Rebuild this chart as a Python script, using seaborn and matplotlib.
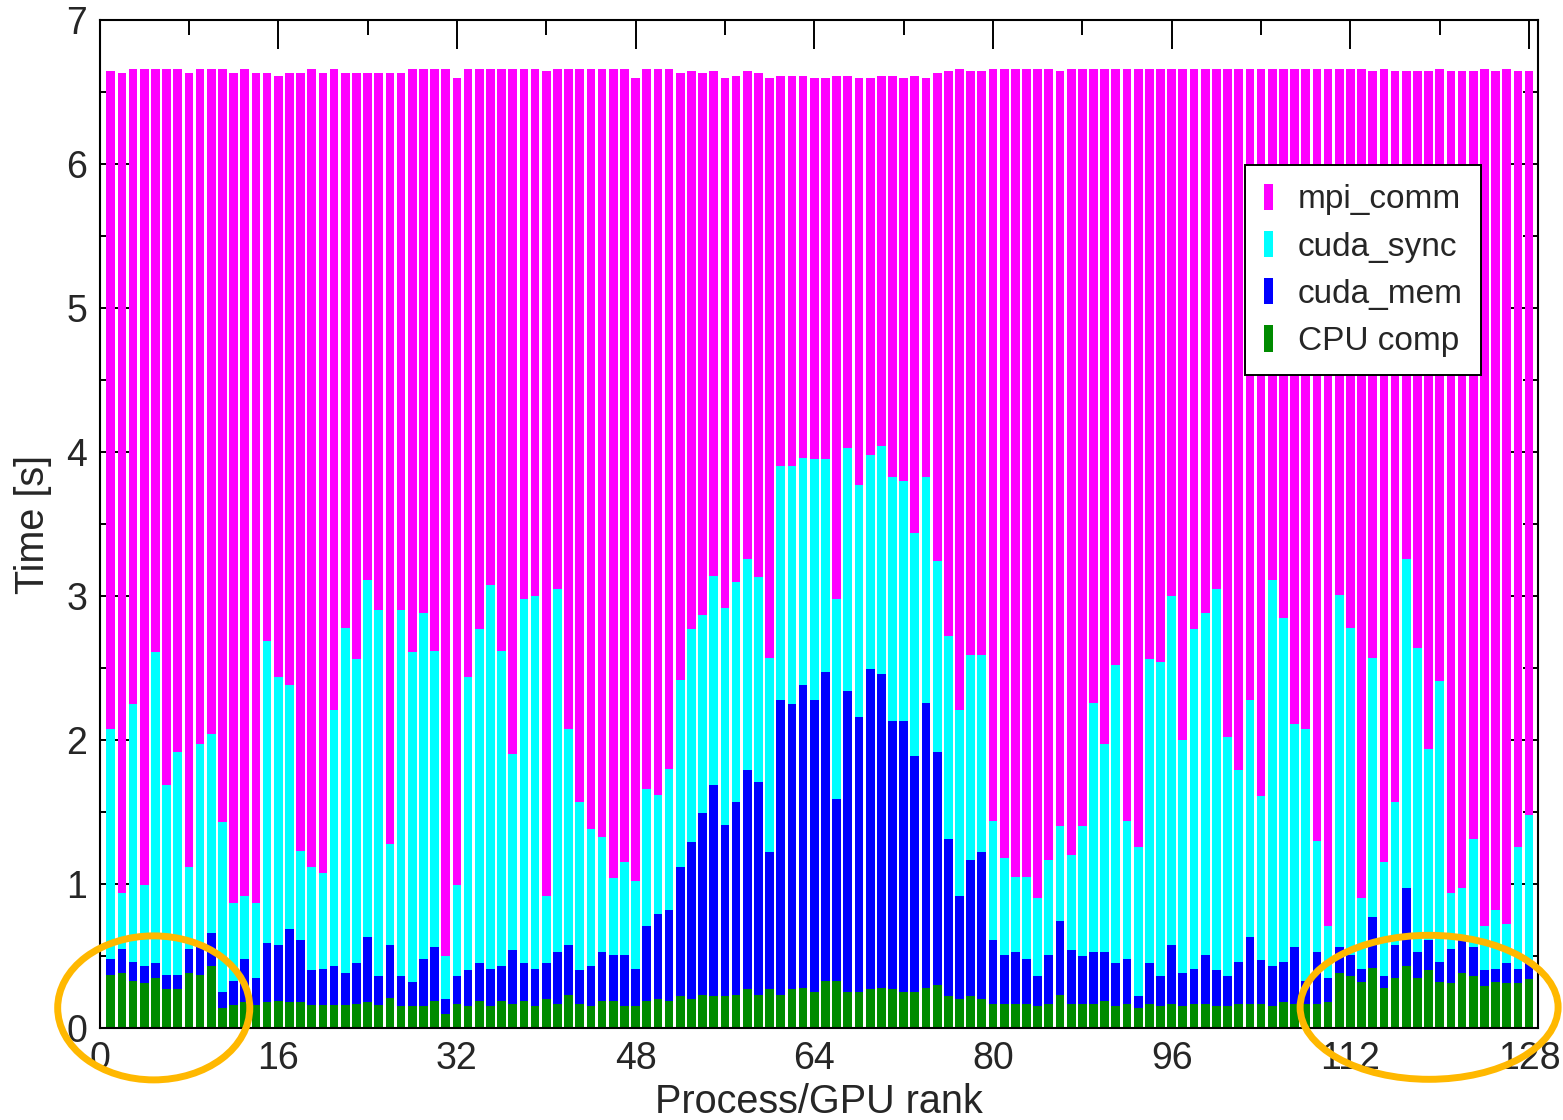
import matplotlib
matplotlib.use("Agg")
import numpy as np
import pandas as pd
import matplotlib.pyplot as plt
from matplotlib.patches import Ellipse, Patch
from matplotlib.ticker import MultipleLocator
import seaborn as sns

# Per-rank timeline: the time (s) at which each phase ends, ranks 1..128
ranks = list(range(1, 129))

end_cpu = [
    0.37, 0.38, 0.33, 0.31, 0.35, 0.27, 0.27, 0.38, 0.37, 0.43, 0.14, 0.16, 0.18, 0.16, 0.18, 0.19,
    0.18, 0.18, 0.16, 0.16, 0.16, 0.16, 0.17, 0.18, 0.16, 0.21, 0.15, 0.15, 0.15, 0.19, 0.10, 0.17,
    0.15, 0.19, 0.15, 0.19, 0.17, 0.19, 0.15, 0.20, 0.17, 0.23, 0.17, 0.15, 0.19, 0.19, 0.15, 0.15,
    0.19, 0.20, 0.19, 0.22, 0.20, 0.23, 0.22, 0.22, 0.23, 0.27, 0.23, 0.27, 0.23, 0.27, 0.28, 0.25,
    0.33, 0.33, 0.25, 0.25, 0.27, 0.28, 0.27, 0.25, 0.25, 0.28, 0.30, 0.22, 0.20, 0.22, 0.20, 0.17,
    0.17, 0.17, 0.17, 0.15, 0.17, 0.23, 0.17, 0.17, 0.17, 0.19, 0.15, 0.17, 0.14, 0.17, 0.15, 0.17,
    0.15, 0.17, 0.17, 0.15, 0.15, 0.17, 0.17, 0.17, 0.15, 0.18, 0.17, 0.17, 0.17, 0.18, 0.38, 0.36,
    0.32, 0.42, 0.28, 0.35, 0.43, 0.35, 0.40, 0.32, 0.31, 0.38, 0.36, 0.29, 0.32, 0.31, 0.31, 0.34,
]

end_mem = [
    0.48, 0.55, 0.46, 0.43, 0.45, 0.37, 0.37, 0.55, 0.56, 0.66, 0.25, 0.33, 0.48, 0.35, 0.59, 0.58,
    0.69, 0.61, 0.40, 0.41, 0.43, 0.38, 0.45, 0.63, 0.36, 0.58, 0.36, 0.32, 0.48, 0.56, 0.20, 0.36,
    0.40, 0.45, 0.41, 0.43, 0.54, 0.45, 0.41, 0.45, 0.53, 0.58, 0.40, 0.43, 0.53, 0.51, 0.51, 0.41,
    0.71, 0.79, 0.82, 1.12, 1.29, 1.49, 1.69, 1.41, 1.57, 1.79, 1.71, 1.22, 2.28, 2.25, 2.38, 2.28,
    2.47, 1.59, 2.34, 2.16, 2.49, 2.46, 2.13, 2.13, 1.89, 2.26, 1.92, 1.31, 0.92, 1.17, 1.22, 0.61,
    0.51, 0.53, 0.48, 0.36, 0.51, 0.74, 0.54, 0.50, 0.53, 0.53, 0.45, 0.48, 0.22, 0.45, 0.36, 0.58,
    0.38, 0.41, 0.51, 0.40, 0.36, 0.46, 0.63, 0.47, 0.43, 0.46, 0.56, 0.33, 0.53, 0.35, 0.56, 0.51,
    0.41, 0.77, 0.36, 0.58, 0.97, 0.53, 0.61, 0.46, 0.55, 0.61, 0.56, 0.40, 0.41, 0.45, 0.41, 0.46,
]

end_sync = [
    2.08, 0.94, 2.25, 0.99, 2.61, 1.69, 1.92, 1.12, 1.97, 2.04, 1.43, 0.87, 0.92, 0.87, 2.69, 2.44,
    2.38, 1.23, 1.12, 1.08, 2.21, 2.78, 2.56, 3.11, 2.90, 1.28, 2.90, 2.61, 2.88, 2.62, 0.50, 0.99,
    2.44, 2.77, 3.08, 2.62, 1.90, 2.98, 3.00, 0.92, 3.05, 2.08, 1.57, 1.38, 1.33, 1.04, 1.15, 1.02,
    1.66, 1.62, 1.80, 2.42, 2.77, 2.87, 3.14, 2.92, 3.10, 3.26, 3.13, 2.57, 3.90, 3.90, 3.96, 3.95,
    3.95, 2.98, 4.03, 3.77, 3.98, 4.04, 3.83, 3.80, 3.44, 3.83, 3.24, 2.72, 2.21, 2.59, 2.59, 1.44,
    1.18, 1.05, 1.05, 0.90, 1.17, 1.40, 1.20, 1.40, 2.26, 1.97, 2.52, 1.44, 1.26, 2.56, 2.54, 3.00,
    2.00, 2.77, 2.88, 3.05, 2.02, 1.79, 2.28, 1.61, 3.11, 2.85, 2.11, 2.08, 1.30, 0.71, 3.01, 2.78,
    0.90, 2.57, 1.15, 1.57, 3.26, 2.64, 1.94, 2.41, 0.94, 0.97, 1.31, 0.71, 0.82, 0.72, 1.26, 1.48,
]

end_mpi = [
    6.645, 6.63, 6.66, 6.66, 6.66, 6.66, 6.66, 6.63, 6.66, 6.66, 6.66, 6.63, 6.66, 6.63, 6.63, 6.61,
    6.63, 6.63, 6.66, 6.63, 6.66, 6.63, 6.63, 6.63, 6.63, 6.63, 6.63, 6.66, 6.66, 6.66, 6.66, 6.595,
    6.66, 6.66, 6.66, 6.66, 6.66, 6.66, 6.66, 6.645, 6.66, 6.66, 6.66, 6.66, 6.66, 6.66, 6.66, 6.595,
    6.66, 6.66, 6.66, 6.63, 6.645, 6.63, 6.645, 6.595, 6.61, 6.645, 6.63, 6.595, 6.61, 6.61, 6.61, 6.595,
    6.595, 6.61, 6.61, 6.595, 6.595, 6.61, 6.61, 6.595, 6.61, 6.595, 6.63, 6.645, 6.66, 6.645, 6.645, 6.66,
    6.66, 6.66, 6.66, 6.66, 6.66, 6.645, 6.66, 6.66, 6.66, 6.66, 6.66, 6.66, 6.66, 6.66, 6.66, 6.66,
    6.66, 6.66, 6.66, 6.66, 6.66, 6.66, 6.66, 6.66, 6.66, 6.66, 6.66, 6.66, 6.66, 6.66, 6.66, 6.66,
    6.66, 6.645, 6.66, 6.645, 6.645, 6.645, 6.645, 6.66, 6.645, 6.645, 6.645, 6.66, 6.645, 6.66, 6.645, 6.645,
]

phase_labels = ["mpi_comm", "cuda_sync", "cuda_mem", "CPU comp"]
phase_colors = ["#FF00FF", "#00FFFF", "#0000FF", "#008B00"]

df = pd.DataFrame({
    "rank": ranks,
    "mpi_comm": end_mpi,
    "cuda_sync": end_sync,
    "cuda_mem": end_mem,
    "CPU comp": end_cpu,
})

sns.set_style("ticks")
plt.rcParams["font.family"] = ["Liberation Sans", "DejaVu Sans"]

fig = plt.figure(figsize=(15.63, 11.2), dpi=100)
ax = fig.add_axes([0.0637, 0.0821, 0.9203, 0.9000])

# Stacked look: each phase is drawn from zero up to its end time, the later
# phases first so the earlier ones sit on top of them.
for label, color in zip(phase_labels, phase_colors):
    sns.barplot(data=df, x="rank", y=label, native_scale=True, color=color,
                saturation=1, width=0.78, errorbar=None, linewidth=0,
                edgecolor="none", ax=ax)

ax.set_xlim(0, 128.8)
ax.set_ylim(0, 7)
ax.xaxis.set_major_locator(MultipleLocator(16))
ax.xaxis.set_minor_locator(MultipleLocator(8))
ax.yaxis.set_major_locator(MultipleLocator(1))
ax.yaxis.set_minor_locator(MultipleLocator(0.5))
ax.set_xticklabels([str(int(t)) for t in ax.get_xticks()])

ax.tick_params(which="both", direction="in", top=True, right=True,
               width=1.4, color="black")
ax.tick_params(which="major", length=21, labelsize=27, pad=9)
ax.tick_params(which="minor", length=10.5)
for side in ax.spines.values():
    side.set_linewidth(1.5)
    side.set_color("black")

ax.set_xlabel("Process/GPU rank", fontsize=28.5, labelpad=5)
ax.set_ylabel("Time [s]", fontsize=28.5, labelpad=10)

handles = [Patch(facecolor=c, edgecolor="none", label=l)
           for l, c in zip(phase_labels, phase_colors)]
leg = ax.legend(handles=handles, loc="upper right", bbox_to_anchor=(0.9605, 0.856),
                fontsize=24, handlelength=0.28, handleheight=0.85,
                handletextpad=0.75, labelspacing=0.46, borderpad=0.55,
                borderaxespad=0, fancybox=False, framealpha=1, frameon=True)
leg.get_frame().set_edgecolor("black")
leg.get_frame().set_linewidth(1.4)

# Highlight rings around the low-rank and high-rank groups
ring_color = "#FFB800"
for cx, cy, w, h in [(4.85, 0.14, 17.2, 1.0), (119.05, 0.144, 23.1, 1.0)]:
    ax.add_patch(Ellipse((cx, cy), w, h, fill=False, edgecolor=ring_color,
                         linewidth=5, clip_on=False, zorder=10))

fig.savefig("out.png", dpi=100)
